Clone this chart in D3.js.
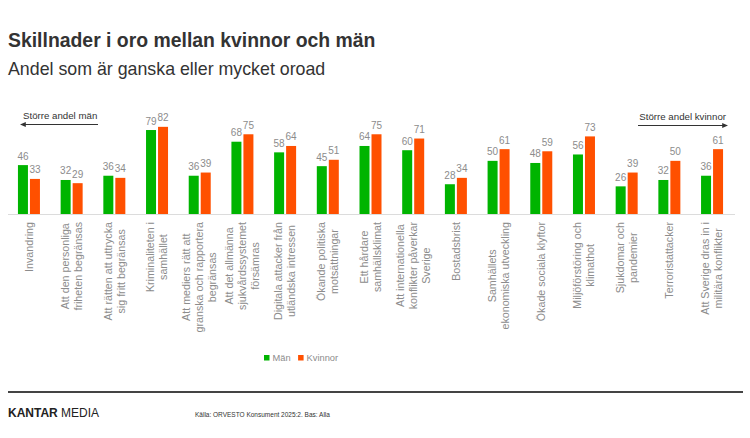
<!DOCTYPE html>
<html>
<head>
<meta charset="utf-8">
<script src="https://cdn.jsdelivr.net/npm/d3@7"></script>
<style>
  body { margin: 0; background: #fff; }
  svg { display: block; font-family: "Liberation Sans", Arial, sans-serif; }
</style>
</head>
<body>
<svg id="chart" width="750" height="438"></svg>
<script>
// category labels, "|" marks a line break in the rotated label
const categories = [
  "Invandring",
  "Att den personliga|friheten begränsas",
  "Att rätten att uttrycka|sig fritt begränsas",
  "Kriminaliteten i|samhället",
  "Att mediers rätt att|granska och rapportera|begränsas",
  "Att det allmänna|sjukvårdssystemet|försämras",
  "Digitala attacker från|utländska intressen",
  "Ökande politiska|motsättningar",
  "Ett hårdare|samhällsklimat",
  "Att internationella|konflikter påverkar|Sverige",
  "Bostadsbrist",
  "Samhällets|ekonomiska utveckling",
  "Ökade sociala klyftor",
  "Miljöförstöring och|klimathot",
  "Sjukdomar och|pandemier",
  "Terroristattacker",
  "Att Sverige dras in i|militära konflikter"
];
const seriesNames = ["Män", "Kvinnor"];
const man = [46, 32, 36, 79, 36, 68, 58, 45, 64, 60, 28, 50, 48, 56, 26, 32, 36];
const kvinnor = [33, 29, 34, 82, 39, 75, 64, 51, 75, 71, 34, 61, 59, 73, 39, 50, 61];

const colors = { "Män": "#00b400", "Kvinnor": "#ff5000" };

const svg = d3.select("#chart");

// headings
svg.append("text").attr("x", 8).attr("y", 47)
  .attr("font-size", 19.4).attr("font-weight", "bold").attr("fill", "#333")
  .text("Skillnader i oro mellan kvinnor och män");
svg.append("text").attr("x", 8).attr("y", 75)
  .attr("font-size", 17.8).attr("fill", "#333")
  .text("Andel som är ganska eller mycket oroad");

// scales
const baseY = 214;
const x0 = d3.scaleBand().domain(categories).range([7.6, 733.4]).padding(0);
const x1 = d3.scaleBand().domain(seriesNames).range([-11, 11]).paddingInner(1 / 6).paddingOuter(0);
const y = d3.scaleLinear().domain([0, 100]).range([baseY, baseY - 106.3]);

const rows = categories.map((c, i) => ({ cat: c, values: [
  { key: "Män", value: man[i] },
  { key: "Kvinnor", value: kvinnor[i] }
]}));

// baseline
svg.append("line")
  .attr("x1", 8).attr("x2", 735).attr("y1", baseY + 0.5).attr("y2", baseY + 0.5)
  .attr("stroke", "#dcdcdc").attr("stroke-width", 1);

const groups = svg.append("g").selectAll("g")
  .data(rows)
  .join("g")
  .attr("transform", d => `translate(${x0(d.cat) + x0.bandwidth() / 2},0)`);

groups.selectAll("rect")
  .data(d => d.values)
  .join("rect")
  .attr("x", d => x1(d.key))
  .attr("y", d => y(d.value))
  .attr("width", x1.bandwidth())
  .attr("height", d => baseY - y(d.value))
  .attr("fill", d => colors[d.key]);

groups.selectAll("text.val")
  .data(d => d.values)
  .join("text")
  .attr("class", "val")
  .attr("x", d => x1(d.key) + x1.bandwidth() / 2)
  .attr("y", d => y(d.value) - 5.5)
  .attr("text-anchor", "middle")
  .attr("font-size", 10)
  .attr("fill", "#8c8c8c")
  .text(d => d.value);

// rotated category labels, top aligned under the axis, lines centred on each other
const labelTop = 222;
const lineGap = 13;
groups.each(function(d) {
  const lines = d.cat.split("|");
  const g = d3.select(this).append("g").attr("transform", "rotate(-90)");
  const texts = g.selectAll("text")
    .data(lines)
    .join("text")
    .attr("text-anchor", "middle")
    .attr("dy", "0.35em")
    .attr("y", (l, i) => (i - (lines.length - 1) / 2) * lineGap)
    .attr("font-size", 10.7)
    .attr("fill", "#8c8c8c")
    .text(l => l);
  let maxW = 0;
  texts.each(function() { maxW = Math.max(maxW, this.getComputedTextLength()); });
  texts.attr("x", -(labelTop + maxW / 2));
});

// direction annotations
const defs = svg.append("defs");
defs.append("marker").attr("id", "arr")
  .attr("viewBox", "0 0 10 10").attr("refX", 8).attr("refY", 5)
  .attr("markerWidth", 5).attr("markerHeight", 5).attr("orient", "auto-start-reverse")
  .append("path").attr("d", "M0,1 L10,5 L0,9 z").attr("fill", "#333");

svg.append("text").attr("x", 23).attr("y", 119)
  .attr("font-size", 9.7).attr("fill", "#333").text("Större andel män");
svg.append("line").attr("x1", 21).attr("x2", 98).attr("y1", 124.5).attr("y2", 124.5)
  .attr("stroke", "#333").attr("stroke-width", 1.2).attr("marker-start", "url(#arr)");

svg.append("text").attr("x", 726).attr("y", 120).attr("text-anchor", "end")
  .attr("font-size", 9.7).attr("fill", "#333").text("Större andel kvinnor");
svg.append("line").attr("x1", 638).attr("x2", 727).attr("y1", 125.5).attr("y2", 125.5)
  .attr("stroke", "#333").attr("stroke-width", 1.2).attr("marker-end", "url(#arr)");

// legend
const legend = svg.append("g").attr("transform", "translate(264,358)");
let lx = 0;
seriesNames.forEach(name => {
  legend.append("rect").attr("x", lx).attr("y", -3).attr("width", 5.5).attr("height", 5.5)
    .attr("fill", colors[name]);
  const t = legend.append("text").attr("x", lx + 8.5).attr("y", 3.3)
    .attr("font-size", 9.3).attr("fill", "#8c8c8c").text(name);
  lx += 8.5 + t.node().getComputedTextLength() + 7.5;
});

// footer
svg.append("line").attr("x1", 8).attr("x2", 743).attr("y1", 392).attr("y2", 392)
  .attr("stroke", "#444").attr("stroke-width", 2.2);
const brand = svg.append("text").attr("x", 8).attr("y", 417).attr("font-size", 12).attr("fill", "#222");
brand.append("tspan").attr("font-weight", "bold").text("KANTAR");
brand.append("tspan").text(" MEDIA");
svg.append("text").attr("x", 195).attr("y", 416.5).attr("font-size", 6.5).attr("fill", "#333")
  .text("Källa: ORVESTO Konsument 2025:2. Bas: Alla");
</script>
</body>
</html>
